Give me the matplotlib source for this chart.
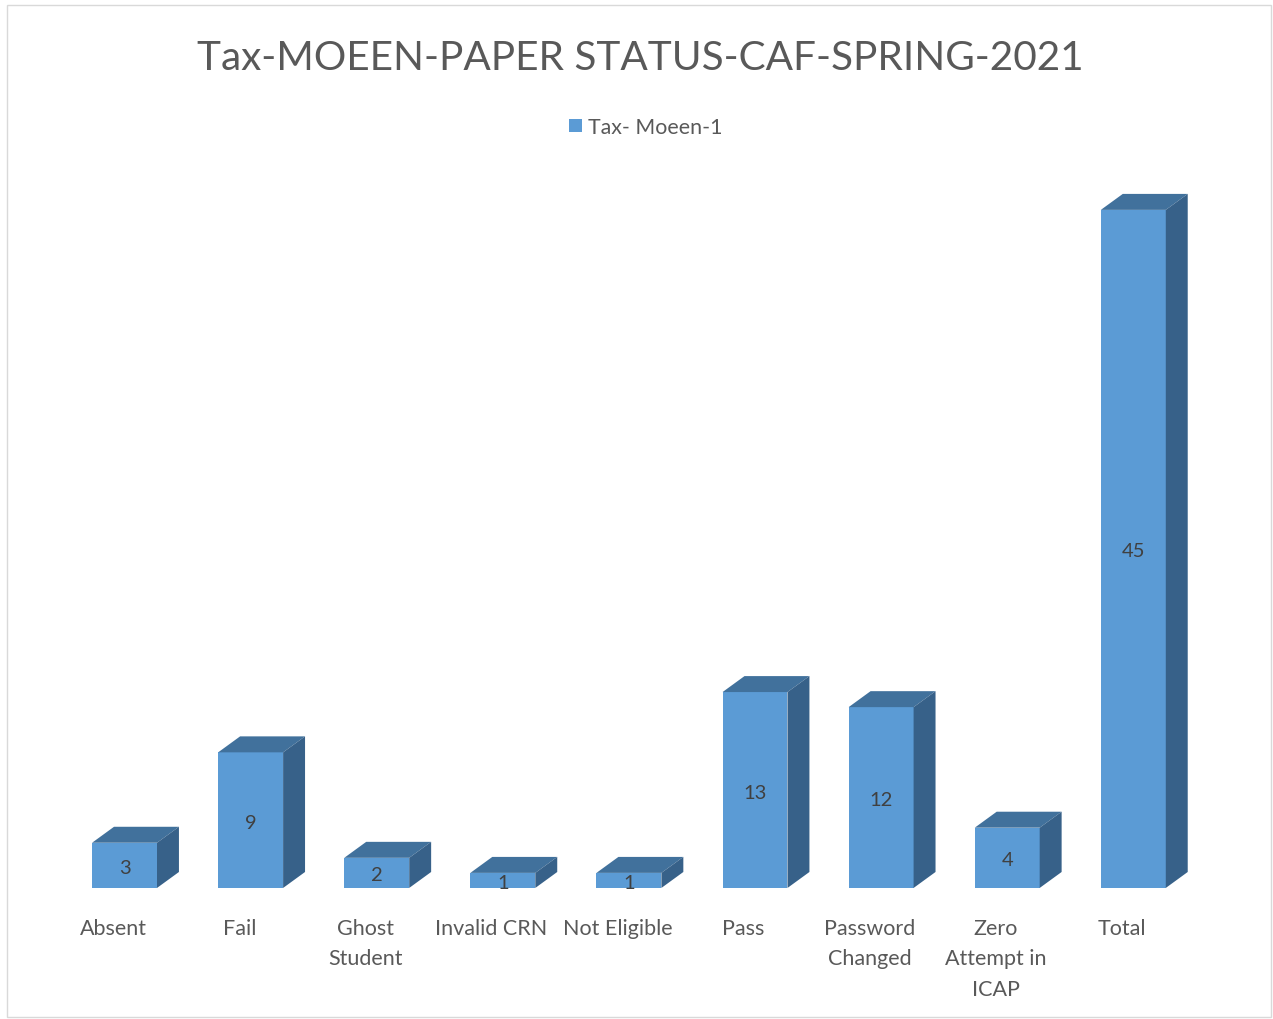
import matplotlib.pyplot as plt
from matplotlib.patches import Polygon, Rectangle

categories = ["Absent", "Fail", "Ghost\nStudent", "Invalid CRN", "Not Eligible",
              "Pass", "Password\nChanged", "Zero\nAttempt in\nICAP", "Total"]
values = [3, 9, 2, 1, 1, 13, 12, 4, 45]
series_name = "Tax- Moeen-1"
title = "Tax-MOEEN-PAPER STATUS-CAF-SPRING-2021"

front_color = "#5B9BD5"
top_color = "#41719C"
side_color = "#376189"
text_color = "#595959"
font = "Lato"

fig = plt.figure(figsize=(12.73, 10.19), dpi=100)
ax = fig.add_axes([0.0483, 0.1286, 0.8915, 0.7098])
ax.set_xlim(-0.5, 8.5)
ax.set_ylim(0, 48)
ax.axis("off")

width = 0.515
dx = 0.174
dy = 1.06

for i, v in enumerate(values):
    x0 = i - width / 2
    x1 = i + width / 2
    # front face
    ax.add_patch(Rectangle((x0, 0), width, v, facecolor=front_color, edgecolor="none", zorder=2))
    # top face
    ax.add_patch(Polygon([(x0, v), (x1, v), (x1 + dx, v + dy), (x0 + dx, v + dy)],
                         closed=True, facecolor=top_color, edgecolor="none", zorder=2))
    # side face
    ax.add_patch(Polygon([(x1, 0), (x1 + dx, dy), (x1 + dx, v + dy), (x1, v)],
                         closed=True, facecolor=side_color, edgecolor="none", zorder=2))
    ax.text(i, v / 2 - 0.2, str(v), ha="center", va="center", fontsize=14.5,
            color="#404040", family=font, zorder=3)
    ax.text(i - 0.09, -2.05, categories[i], ha="center", va="top", fontsize=15.5,
            color=text_color, family=font, linespacing=1.65)

fig.text(0.503, 1 - 58 / 1019, title, ha="center", va="center", fontsize=29.2,
         color=text_color, family=font)

# legend
fig.patches.append(Rectangle((569 / 1273, 1 - 132 / 1019), 13 / 1273, 13 / 1019,
                             transform=fig.transFigure, facecolor=front_color,
                             edgecolor="none"))
fig.text(588 / 1273, 1 - 127.5 / 1019, series_name, ha="left", va="center",
         fontsize=15.4, color=text_color, family=font)

# chart border
fig.patches.append(Rectangle((7 / 1273, 2 / 1019), 1264 / 1273, 1012 / 1019,
                             transform=fig.transFigure, facecolor="none",
                             edgecolor="#d9d9d9", linewidth=1))

fig.savefig("out.png", dpi=100)
